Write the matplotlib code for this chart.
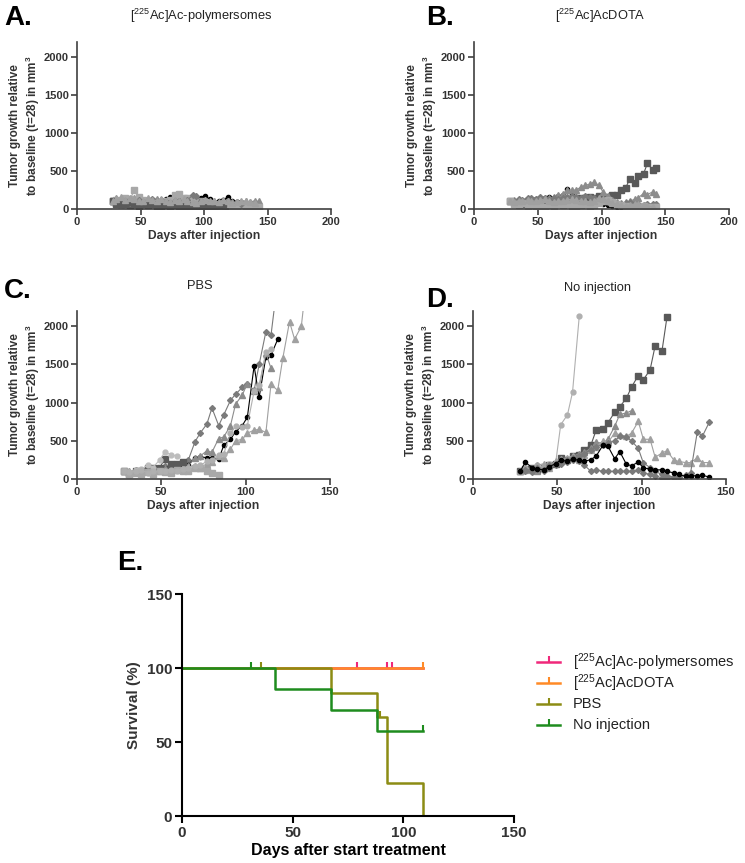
import matplotlib
matplotlib.use("Agg")
import matplotlib.pyplot as plt
from matplotlib.lines import Line2D

plt.rcParams['font.family'] = ['Liberation Sans', 'DejaVu Sans']
plt.rcParams['mathtext.default'] = 'regular'

# ---------------- data ----------------
# measurement days (tumour panels)
days_ab = [28, 31, 35, 38, 42, 45, 49, 52, 56, 59, 63, 66, 70, 73, 77, 80, 84,
           87, 91, 94, 98, 101, 105, 108, 112, 115, 119, 122, 126, 129, 133, 136, 140, 143]
days_c = [28, 31, 35, 38, 42, 45, 49, 52, 56, 59, 63, 66, 70, 73, 77, 80, 84,
          87, 91, 94, 98, 101, 105, 108, 112, 115, 119, 122, 126, 129, 133, 136]
days_d = [28, 31, 35, 38, 42, 45, 49, 52, 56, 59, 63, 66, 70, 73, 77, 80, 84,
          87, 91, 94, 98, 101, 105, 108, 112, 115, 119, 122, 126, 129, 133, 136, 140]

# A: [225Ac]Ac-polymersomes, one list per mouse
poly_mice = [
    [100, 110, 90, 80, 120, 100, 90, 110, 100, 120, 95, 105, 130, 160, 125, 110, 100, 120, 115, 130, 150, 165, 130, 90, 110, 125, 155, 110, 95, 90, 80, 75, 70],
    [100, 70, 60, 80, 50, 60, 40, 60, 50, 70, 40, 60, 50, 40, 60, 50, 40, 30, 50, 40, 60, 30, 40, 20, 30, 40, 30],
    [100, 150, 120, 130, 110, 140, 120, 110, 100, 90, 130, 120, 110, 100, 140, 150, 130, 120, 160, 140, 110, 120, 90, 100, 80, 110, 100, 90, 70, 80, 100, 90, 110, 100],
    [100, 120, 110, 140, 130, 250, 160, 120, 100, 110, 90, 80, 100, 120, 180, 200, 150, 140, 120, 100, 110, 90, 80, 60, 50, 70, 60, 40, 30, 50, 40, 30, 20, 30],
    [100, 90, 110, 100, 80, 100, 120, 90, 110, 130, 100, 120, 90, 80, 100, 110, 90, 120, 180, 170, 100, 90, 80, 70, 60, 90, 100, 80, 90, 70],
    [100, 80, 60, 70, 90, 60, 50, 70, 80, 60, 50, 40, 60, 70, 50, 40, 60, 50, 30, 40, 20, 30, 40, 30, 50, 60],
    [100, 130, 160, 120, 150, 130, 110, 100, 140, 120, 110, 130, 100, 90, 120, 110, 130, 100, 90, 80, 100, 120, 110, 100, 90, 120, 100, 80, 90, 100, 110, 90, 80],
]

# B: [225Ac]AcDOTA
dota_mice = [
    [100, 80, 90, 100, 120, 110, 130, 150, 140, 160, 150, 170, 180, 260, 200, 150, 140, 120, 110, 100, 90, 60, 50, 40, 30, 20, 30, 20],
    [100, 90, 80, 70, 90, 80, 100, 90, 80, 100, 110, 100, 120, 130, 120, 140, 150, 140, 160, 150, 170, 160, 160, 180, 190, 250, 280, 390, 345, 430, 465, 600, 520, 535],
    [100, 120, 90, 110, 80, 100, 120, 140, 130, 150, 160, 180, 200, 250, 250, 250, 290, 310, 330, 355, 310, 230, 175, 120, 95, 80, 90, 100, 130, 150, 205, 190, 225, 200],
    [100, 110, 130, 120, 150, 140, 130, 160, 150, 120, 140, 130, 150, 160, 170, 160, 150, 170, 160, 140, 120, 110, 90, 80, 70, 60, 80, 90, 70, 60, 50, 60, 70, 60],
    [100, 60, 50, 80, 40, 50, 30, 40, 20, 50, 40, 60, 50, 70, 40, 30, 50, 60, 40, 50, 80, 100, 120, 90, 60, 50, 40, 30, 20, 30, 40, 30, 20, 30],
    [100, 90, 110, 100, 120, 110, 100, 120, 130, 110, 90, 100, 110, 120, 130, 120, 110, 100, 90, 110, 150, 130, 100, 80, 60, 50, 40, 50, 60, 70, 50, 40, 30],
]

# C: PBS
pbs_mice = [
    [100, 80, 120, 100, 130, 110, 150, 170, 160, 200, 210, 250, 490, 600, 720, 930, 700, 840, 1030, 1110, 1200, 1250, 1160, 1500, 1930, 1880, 2600],
    [100, 90, 110, 80, 120, 100, 130, 150, 140, 160, 170, 180, 280, 290, 280, 270, 260, 440, 520, 620, 700, 810, 1480, 1070, 1600, 1620, 1830],
    [100, 110, 90, 120, 100, 130, 110, 140, 150, 130, 160, 170, 280, 300, 370, 350, 530, 550, 700, 980, 1100, 1250, 1150, 1200, 1650, 1450],
    [100, 80, 100, 90, 110, 90, 120, 100, 110, 140, 150, 160, 170, 150, 200, 220, 300, 270, 390, 500, 520, 600, 640, 650, 610, 1240, 1160, 1580, 2060, 1830, 2000, 2600],
    [100, 70, 110, 100, 140, 140, 150, 260, 190, 200, 220],
    [100, 90, 120, 130, 180, 150, 250, 350, 320, 300],
    [100, 60, 80, 70, 90, 60, 100, 90, 80, 120, 110, 100, 150, 150, 100, 80, 50],
    [100, 90, 100, 120, 80, 100, 110, 100, 120, 110, 130, 150, 170, 180, 230, 250, 320, 330, 600, 690, 680, 700, 1150, 1230, 1660, 1700],
]

# D: no injection
noinj_mice = [
    [100, 130, 150, 120, 140, 180, 200, 280, 250, 300, 320, 380, 450, 640, 655, 735, 875, 945, 1060, 1205, 1355, 1300, 1430, 1745, 1670, 2120],
    [100, 150, 120, 180, 160, 200, 210, 710, 840, 1135, 2130],
    [100, 120, 140, 110, 160, 180, 220, 250, 260, 300, 330, 350, 400, 480, 470, 520, 690, 845, 865, 895],
    [100, 150, 120, 180, 200, 150, 230, 260, 280, 300, 250, 320, 380, 420, 500, 480, 600, 580, 560, 600, 755, 520, 520, 285, 340, 370, 250, 230, 215, 215, 275, 215, 215],
    [100, 120, 90, 130, 100, 150, 180, 200, 220, 250, 230, 180, 100, 120, 100, 100, 100, 100, 100, 100, 120, 80, 60, 40, 15, 15, 15, 30, 50, 80, 620, 560, 740],
    [100, 110, 130, 150, 120, 180, 200, 230, 250, 270, 300, 330, 380, 420, 450, 470, 500, 560, 550, 500, 400, 210, 150, 100, 60, 40, 30, 20],
    [100, 220, 150, 130, 120, 160, 200, 250, 230, 260, 245, 230, 255, 300, 440, 430, 265, 360, 190, 175, 220, 145, 130, 120, 120, 100, 80, 60, 35, 40, 45, 50, 25],
]

# E: survival (Kaplan-Meier steps)
groups = ['[$^{225}$Ac]Ac-polymersomes', '[$^{225}$Ac]AcDOTA', 'PBS', 'No injection']
surv_t = [[0, 109], [0, 109], [0, 67.5, 88, 92.5, 109], [0, 42, 67.5, 88, 109]]
surv_s = [[100, 100], [100, 100], [100, 83.3, 66.7, 22.2, 0], [100, 85.7, 71.4, 57.1, 57.1]]
cens_t = [[79, 92.5, 95], [109], [35.5, 89.5], [31, 109]]
cens_s = [[100, 100, 100], [100], [100, 66.7], [100, 57.1]]

# ---------------- styles ----------------
gray_styles = [('#000000', 'o', 3), ('#595959', 's', 4), ('#8c8c8c', '^', 4),
               ('#a8a8a8', 's', 4), ('#7a7a7a', 'D', 3), ('#bdbdbd', 'o', 3.5),
               ('#a0a0a0', '^', 4), ('#b0b0b0', 'o', 3.5)]
style_map = {
    'A': [0, 1, 2, 3, 4, 1, 6],
    'B': [0, 1, 2, 4, 3, 6],
    'C': [4, 0, 2, 6, 1, 5, 3, 7],
    'D': [1, 7, 2, 6, 4, 4, 0],
}
surv_colors = ['#f0287a', '#ff8a26', '#8c8c14', '#1e8c1e']

fig = plt.figure(figsize=(7.45, 8.63), dpi=100)
W, H = 745, 863


def ax_px(l, r, b, t):
    return fig.add_axes([l / W, 1 - b / H, (r - l) / W, (b - t) / H])


def tumour_panel(ax, days, mice, key, xmax):
    for v, si in zip(mice, style_map[key]):
        c, m, ms = gray_styles[si]
        ax.plot(days[:len(v)], v, color=c, marker=m, ms=ms, lw=0.8, mec=c)
    ax.set_xlim(0, xmax)
    ax.set_ylim(0, 2200)
    ax.set_yticks([0, 500, 1000, 1500, 2000])
    ax.set_xticks(range(0, xmax + 1, 50))
    for s in ['top', 'right']:
        ax.spines[s].set_visible(False)
    for s in ['left', 'bottom']:
        ax.spines[s].set_color('#404040')
        ax.spines[s].set_linewidth(1.2)
    ax.tick_params(direction='out', length=4, width=1.2, color='#404040',
                   labelsize=8, labelcolor='#333333', pad=2)
    for lab in ax.get_xticklabels() + ax.get_yticklabels():
        lab.set_fontweight('bold')
    ax.set_xlabel('Days after injection', fontsize=8.7, fontweight='bold',
                  color='#333333', labelpad=2)
    ax.set_ylabel('Tumor growth relative\nto baseline (t=28) in mm$^3$',
                  fontsize=8.5, fontweight='bold', color='#333333', labelpad=1)


axA = ax_px(77, 331, 209, 42)
tumour_panel(axA, days_ab, poly_mice, 'A', 200)
axB = ax_px(474, 729, 209, 42)
tumour_panel(axB, days_ab, dota_mice, 'B', 200)
axC = ax_px(77, 330, 479, 311)
tumour_panel(axC, days_c, pbs_mice, 'C', 150)
axD = ax_px(473, 726, 479, 311)
tumour_panel(axD, days_d, noinj_mice, 'D', 150)

# titles and panel letters
fig.text(201 / W, 1 - 16 / H, '[$^{225}$Ac]Ac-polymersomes', ha='center', va='center', fontsize=9.3, color='#222222')
fig.text(600 / W, 1 - 16 / H, '[$^{225}$Ac]AcDOTA', ha='center', va='center', fontsize=9.3, color='#222222')
fig.text(200 / W, 1 - 286 / H, 'PBS', ha='center', va='center', fontsize=9.3, color='#222222')
fig.text(597 / W, 1 - 288 / H, 'No injection', ha='center', va='center', fontsize=9.3, color='#222222')
for letter, x, y in [('A.', 4, 25), ('B.', 426, 25), ('C.', 4, 298), ('D.', 426, 307), ('E.', 117, 570)]:
    fig.text(x / W, 1 - y / H, letter, ha='left', va='baseline', fontsize=20, fontweight='bold')

# survival panel
axE = ax_px(182, 514, 816, 594)
for t, s, ct, cs, c in zip(surv_t, surv_s, cens_t, cens_s, surv_colors):
    axE.step(t, s, where='post', color=c, lw=1.8)
    axE.plot(ct, cs, ls='none', marker=2, ms=4, mew=1.5, color=c)
axE.set_xlim(0, 150)
axE.set_ylim(0, 150)
axE.set_xticks([0, 50, 100, 150])
axE.set_yticks([0, 50, 100, 150])
for s in ['top', 'right']:
    axE.spines[s].set_visible(False)
for s in ['left', 'bottom']:
    axE.spines[s].set_linewidth(1.5)
axE.tick_params(direction='out', length=5, width=1.5, labelsize=11,
                labelcolor='#333333', pad=2)
for lab in axE.get_xticklabels() + axE.get_yticklabels():
    lab.set_fontweight('bold')
axE.set_xlabel('Days after start treatment', fontsize=11.5, fontweight='bold', labelpad=2)
axE.set_ylabel('Survival (%)', fontsize=11, fontweight='bold', color='#333333', labelpad=4)

# legend drawn by hand so the rows stay evenly spaced
for i, (g, c) in enumerate(zip(groups, surv_colors)):
    y = 1 - (662 + 21 * i) / H
    fig.add_artist(Line2D([537 / W, 560 / W], [y, y], color=c, lw=1.8,
                          transform=fig.transFigure))
    fig.add_artist(Line2D([548.5 / W], [y], color=c, marker=2, ms=4, mew=1.5,
                          transform=fig.transFigure))
    fig.text(573 / W, y, g, ha='left', va='center', fontsize=10.5, color='#222222')

fig.savefig('out.png', dpi=100)
